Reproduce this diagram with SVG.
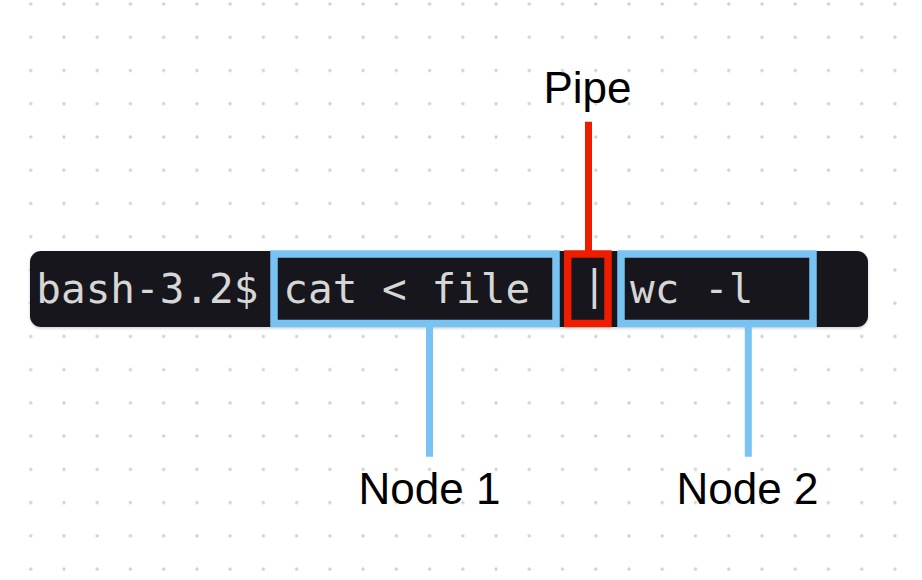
<svg xmlns="http://www.w3.org/2000/svg" width="922" height="580" viewBox="0 0 922 580">
  <defs>
    <pattern id="dots" x="14.08" y="-12.62" width="33.24" height="33.24" patternUnits="userSpaceOnUse">
      <circle cx="16.62" cy="16.62" r="1.7" fill="#cfcfcf"/>
    </pattern>
    <filter id="shadow" x="-5%" y="-20%" width="110%" height="150%">
      <feDropShadow dx="0" dy="1.5" stdDeviation="1.5" flood-color="#000" flood-opacity="0.18"/>
    </filter>
  </defs>
  <style>
    .term { font-family: "DejaVu Sans Mono", "Liberation Mono", monospace; font-size: 41px; fill: #d6d6d6; }
    .label { font-family: "Liberation Sans", Arial, sans-serif; font-size: 44px; fill: #000; text-anchor: middle; }
    .blue { fill: none; stroke: #78c3f1; stroke-width: 7.5; }
    .red { fill: none; stroke: #ef1d00; stroke-width: 7.5; }
    .bline { stroke: #78c3f1; stroke-width: 7; }
    .rline { stroke: #ef1d00; stroke-width: 7; }
  </style>
  <rect width="922" height="580" fill="#ffffff"/>
  <rect width="922" height="580" fill="url(#dots)"/>

  <g id="terminal">
    <rect x="30" y="251" width="838" height="76" rx="11" fill="#17191d" filter="url(#shadow)"/>
    <text class="term" x="36.3" y="303">bash-3.2$</text>
  </g>

  <g id="connectors">
    <line class="rline" x1="588.5" y1="121.7" x2="588.5" y2="252"/>
    <line class="bline" x1="429.5" y1="326" x2="429.5" y2="456.7"/>
    <line class="bline" x1="748.3" y1="326" x2="748.3" y2="456.7"/>
  </g>

  <g id="node1">
    <rect class="blue" x="274" y="254" width="282" height="69.5"/>
    <text class="term" x="283.3" y="303">cat &lt; file</text>
    <text class="label" x="429.5" y="504">Node 1</text>
  </g>

  <g id="pipe">
    <rect class="red" x="567.7" y="254" width="40.3" height="69.5"/>
    <text class="term" x="582" y="299" font-size="34">|</text>
    <text class="label" x="587.5" y="103">Pipe</text>
  </g>

  <g id="node2">
    <rect class="blue" x="621" y="254" width="192" height="69.5"/>
    <text class="term" x="630" y="303">wc -l</text>
    <text class="label" x="747.5" y="504">Node 2</text>
  </g>
</svg>
